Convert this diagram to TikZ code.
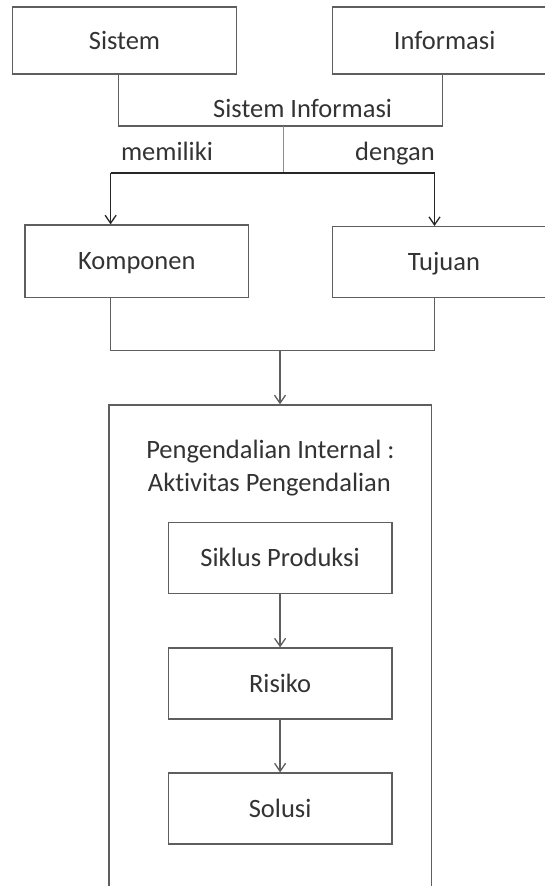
\documentclass[tikz,border=0pt]{standalone}
\usepackage{fontspec}
\setmainfont[Ligatures=NoCommon,RawFeature={-liga;-dlig}]{Carlito}
\usetikzlibrary{arrows.meta}
\definecolor{boxc}{HTML}{5E5E5E}
\definecolor{txtc}{HTML}{333333}
\definecolor{lightc}{HTML}{8C8C8C}
\tikzset{
  lbl/.style={inner sep=0pt, text height=17pt, text depth=0pt, text=txtc,
    font=\fontsize{26.5}{32}\selectfont},
  boxn/.style={lbl, draw=boxc, line width=1.4pt, minimum height=67pt},
  arr/.style={-{Straight Barb[length=8pt,width=11pt,line width=1.3pt]}},
  darkline/.style={draw=black!85, line width=1.5pt},
  grayline/.style={draw=boxc, line width=1.4pt},
}
\begin{document}
\begin{tikzpicture}[x=1pt,y=-1pt]
\useasboundingbox (0,0) rectangle (545,886);
% top boxes
\node[boxn, minimum width=224pt] (sistem) at (124.5,40.5) {Sistem};
\node[boxn, minimum width=224pt] (informasi) at (444.6,40.5) {Informasi};
% joining line
\coordinate (j1) at (118.2,126);
\coordinate (j2) at (442.5,126);
\draw[grayline] (sistem.south -| j1) -- (j1) -- (j2) -- (informasi.south -| j2);
\node[lbl] (si) at (302.6,109) {Sistem Informasi};
\coordinate (m0) at (283.3,126);
\coordinate (m1) at (283.3,173);
\draw[draw=lightc, line width=1pt] (m0) -- (m1);
\node[lbl] (memiliki) at (167,152) {memiliki};
\node[lbl] (dengan) at (395,152) {dengan};
% middle boxes
\node[boxn, minimum width=223.5pt, minimum height=72.7pt] (komponen) at (136.8,261.4) {Komponen};
\node[boxn, minimum width=223pt, minimum height=71pt] (tujuan) at (444,262.2) {Tujuan};
\coordinate (b1) at (110.6,173);
\coordinate (b2) at (434.5,173);
\draw[darkline] (b1) -- (b2);
\draw[darkline, arr] (b1) -- (komponen.north -| b1);
\draw[darkline, arr] (b2) -- (tujuan.north -| b2);
% join below
\coordinate (c1) at (110.4,350.7);
\coordinate (c2) at (434.3,350.7);
\coordinate (c3) at (280,350.7);
\draw[grayline] (komponen.south -| c1) -- (c1) -- (c2) -- (tujuan.south -| c2);
% big box
\node[draw=boxc, line width=1.4pt, minimum width=322.5pt, minimum height=495pt, inner sep=0pt] (big) at (270.05,652.5) {};
\draw[grayline, arr] (c3) -- (big.north -| c3);
\node[lbl] (t1) at (270.4,450) {Pengendalian Internal :};
\node[lbl] (t2) at (269.4,483) {Aktivitas Pengendalian};
% inner boxes
\node[boxn, minimum width=223.8pt, minimum height=71pt] (siklus) at (280.1,557.8) {Siklus Produksi};
\node[boxn, minimum width=223.8pt, minimum height=71pt] (risiko) at (280.1,683.6) {Risiko};
\node[boxn, minimum width=223.8pt, minimum height=71pt] (solusi) at (280.1,808.6) {Solusi};
\draw[grayline, arr] (siklus) -- (risiko);
\draw[grayline, arr] (risiko) -- (solusi);
\end{tikzpicture}
\end{document}
